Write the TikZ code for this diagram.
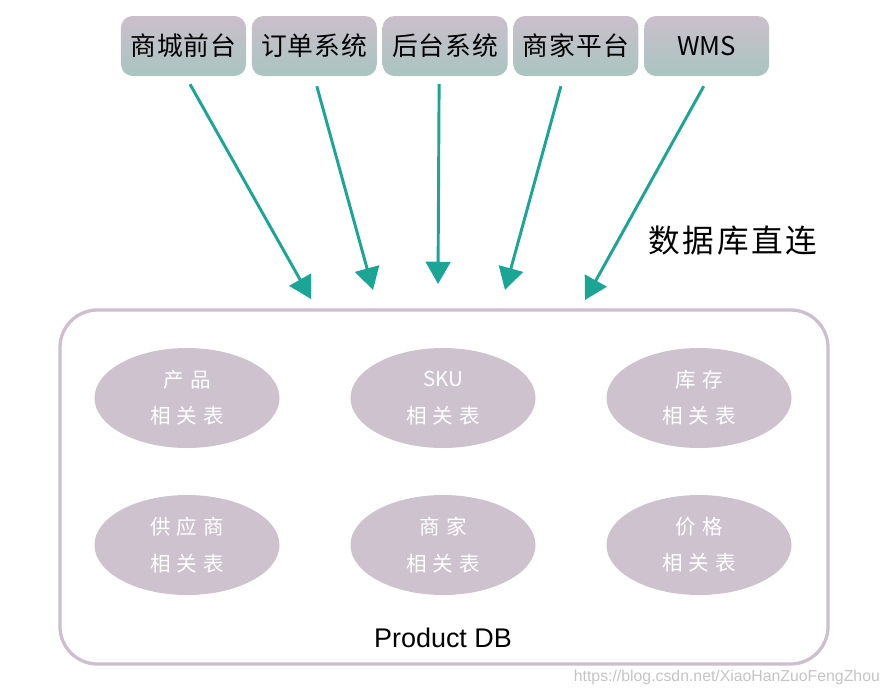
\documentclass[tikz,border=0pt]{standalone}
\usepackage{fontspec}
\setmainfont{Liberation Sans}
\newfontfamily\cjk{Noto Sans CJK SC}
\newfontfamily\cjksys[LetterSpace=4]{Noto Sans CJK SC}
\newfontfamily\cjktbl[LetterSpace=30]{Noto Sans CJK SC}
\newfontfamily\cjknote[LetterSpace=8]{Noto Sans CJK SC}
\usetikzlibrary{positioning,arrows.meta,calc,shapes.geometric}
\definecolor{sysTop}{HTML}{CBBFCB}
\definecolor{sysBot}{HTML}{A9C5C0}
\definecolor{linkTeal}{HTML}{1AA595}
\definecolor{dbLine}{HTML}{CDBFCD}
\definecolor{tblFill}{HTML}{CFC2CF}
\definecolor{markGray}{HTML}{C4C4C4}

\begin{document}
\begin{tikzpicture}[x=0.03cm,y=-0.03cm,
  sysbox/.style={rounded corners=10pt,minimum width=3.75cm,minimum height=1.8cm,inner sep=0pt,
    top color=sysTop,bottom color=sysBot,font=\cjksys\fontsize{22}{26}\selectfont},
  tbl/.style={ellipse,fill=tblFill,minimum width=5.55cm,minimum height=3cm,inner sep=0pt,
    text=white,align=center,font=\cjktbl\fontsize{17.5}{31}\selectfont},
  link/.style={-{Triangle[length=19pt,width=21pt]},line width=2.5pt,linkTeal}]
  \useasboundingbox (0,0) rectangle (888,692);
  % client systems
  \node[sysbox] (s1) at (183.5,46) {商城前台};
  \node[sysbox,right=0.16cm of s1] (s2) {订单系统};
  \node[sysbox,right=0.16cm of s2] (s3) {后台系统};
  \node[sysbox,right=0.16cm of s3] (s4) {商家平台};
  \node[sysbox,right=0.16cm of s4] (s5) {\cjk WMS};
  % product database
  \node[draw=dbLine,line width=2.8pt,rounded corners=32pt,minimum width=23.04cm,minimum height=10.62cm] (db) at (444,487) {};
  \node[tbl] (p1) at (187,398) {产品\\相关表};
  \node[tbl] (p2) at (443,398) {\cjk SKU\\相关表};
  \node[tbl] (p3) at (699,398) {库存\\相关表};
  \node[tbl] (p4) at (187,545) {供应商\\相关表};
  \node[tbl] (p5) at (443,545) {商家\\相关表};
  \node[tbl] (p6) at (699,545) {价格\\相关表};
  \node[font=\fontsize{23}{26}\selectfont] (dbname) at (443,638) {Product DB};
  % direct connections
  \coordinate (t1) at (311,299);
  \coordinate (t2) at (373,290);
  \coordinate (t3) at (438,284);
  \coordinate (t4) at (505,290);
  \coordinate (t5) at (585,300);
  \foreach \s/\dx/\dy in {1/6.5/8,2/2.5/10,3/-6/8,4/-15/10,5/-3/10}
    \draw[link] ($(s\s.south)+(\dx,\dy)$) -- (t\s);
  \node[font=\cjknote\fontsize{27}{30}\selectfont] (direct) at (733,241) {数据库直连};
  % watermark
  \node[anchor=east,text=markGray,font=\fontsize{13.5}{16}\selectfont] (mark) at (884,677) {https://blog.csdn.net/XiaoHanZuoFengZhou};
\end{tikzpicture}
\end{document}
